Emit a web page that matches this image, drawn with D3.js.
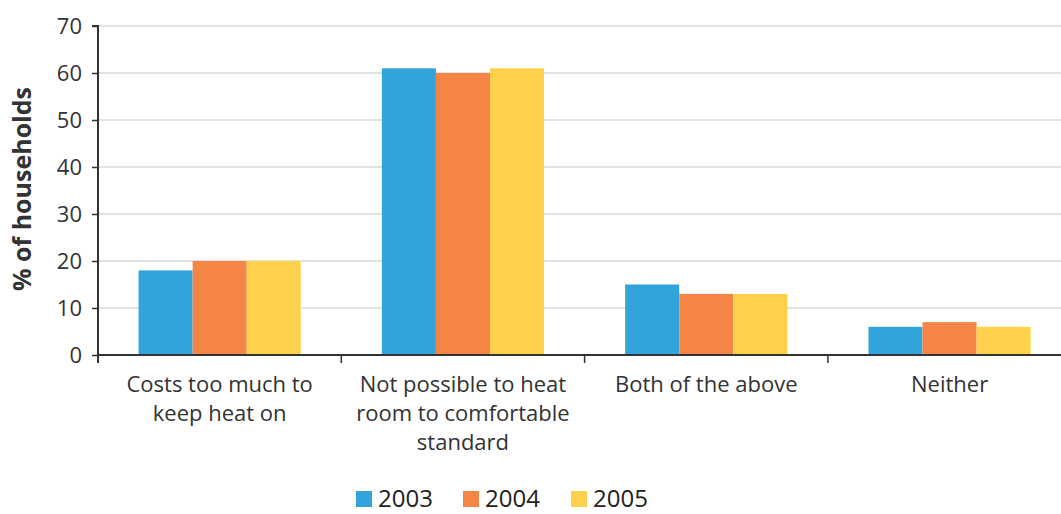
<!DOCTYPE html>
<html>
<head>
<meta charset="utf-8">
<script src="https://cdn.jsdelivr.net/npm/d3@7"></script>
<style>
  html, body { margin: 0; padding: 0; background: #fff; }
  svg { display: block; font-family: "Open Sans", "Noto Sans", sans-serif; }
</style>
</head>
<body>
<svg id="chart" width="1061" height="514"></svg>
<script>
const categories = [
  ["Costs too much to", "keep heat on"],
  ["Not possible to heat", "room to comfortable", "standard"],
  ["Both of the above"],
  ["Neither"]
];
const years = ["2003", "2004", "2005"];
const values2003 = [18, 61, 15, 6];
const values2004 = [20, 60, 13, 7];
const values2005 = [20, 61, 13, 6];
const yTicks = [0, 10, 20, 30, 40, 50, 60, 70];
const colors = ["#33a3dc", "#f58546", "#fed14d"];

(function () {
const series = [values2003, values2004, values2005];
const catKeys = categories.map((c, i) => i);

const svg = d3.select("#chart");
const mLeft = 98, mBottom = 355, mTop = 26;
const band = 243.3;

const x0 = d3.scaleBand().domain(catKeys).range([mLeft, mLeft + band * categories.length]).paddingInner(0).paddingOuter(0);
const x1 = d3.scaleBand().domain(years).range([0, x0.bandwidth()]).paddingInner(0).paddingOuter(0.75);
const y = d3.scaleLinear().domain([0, 70]).range([mBottom, mTop]);

// gridlines
svg.append("g").selectAll("line").data(yTicks.filter(t => t > 0)).join("line")
  .attr("x1", mLeft).attr("x2", 1061)
  .attr("y1", d => y(d)).attr("y2", d => y(d))
  .attr("stroke", "#d9d9d9").attr("stroke-width", 1.5);

// bars
const groups = svg.append("g").selectAll("g").data(catKeys).join("g")
  .attr("transform", d => `translate(${x0(d)},0)`);
groups.selectAll("rect").data(ci => years.map((yr, si) => ({yr, si, v: series[si][ci]}))).join("rect")
  .attr("x", d => x1(d.yr))
  .attr("width", x1.bandwidth())
  .attr("y", d => y(d.v))
  .attr("height", d => y(0) - y(d.v))
  .attr("fill", d => colors[d.si]);

// y axis
const yAxis = d3.axisLeft(y).tickValues(yTicks).tickSize(6).tickPadding(10);
const gy = svg.append("g").attr("transform", `translate(${mLeft},0)`).call(yAxis);
gy.select(".domain").attr("stroke", "#333").attr("stroke-width", 2).attr("d", `M-6,${mTop}H0V${mBottom + 8}`);
gy.selectAll(".tick line").attr("stroke", "#333").attr("stroke-width", 1.5);
gy.selectAll(".tick text").attr("font-size", 22).attr("fill", "#333").attr("font-family", "Open Sans, sans-serif");

// x axis line
svg.append("line").attr("x1", mLeft).attr("x2", 1061).attr("y1", mBottom).attr("y2", mBottom)
  .attr("stroke", "#333").attr("stroke-width", 2);
// separator ticks
svg.append("g").selectAll("line").data(catKeys.slice(1)).join("line")
  .attr("x1", d => x0(d)).attr("x2", d => x0(d))
  .attr("y1", mBottom).attr("y2", mBottom + 8)
  .attr("stroke", "#333").attr("stroke-width", 1.5);

// category labels
const lbl = svg.append("g").selectAll("text").data(catKeys).join("text")
  .attr("y", 392)
  .attr("text-anchor", "middle")
  .attr("font-size", 22)
  .attr("fill", "#333");
lbl.selectAll("tspan").data(d => categories[d].map(t => ({t, x: x0(d) + x0.bandwidth() / 2}))).join("tspan")
  .attr("x", d => d.x)
  .attr("dy", (d, i) => i === 0 ? 0 : 29)
  .text(d => d.t);

// y title
svg.append("text")
  .attr("transform", "translate(31,189) rotate(-90)")
  .attr("text-anchor", "middle")
  .attr("font-size", 25)
  .attr("font-weight", "bold")
  .attr("fill", "#333")
  .text("% of households");

// legend
const legendX = [356, 463, 571];
const lg = svg.append("g").selectAll("g").data(years).join("g")
  .attr("transform", (d, i) => `translate(${legendX[i]},491)`);
lg.append("rect").attr("width", 16).attr("height", 16).attr("fill", (d, i) => colors[i]);
lg.append("text").attr("x", 22).attr("y", 16).attr("font-size", 24).attr("fill", "#222").text(d => d);
})();
</script>
</body>
</html>
